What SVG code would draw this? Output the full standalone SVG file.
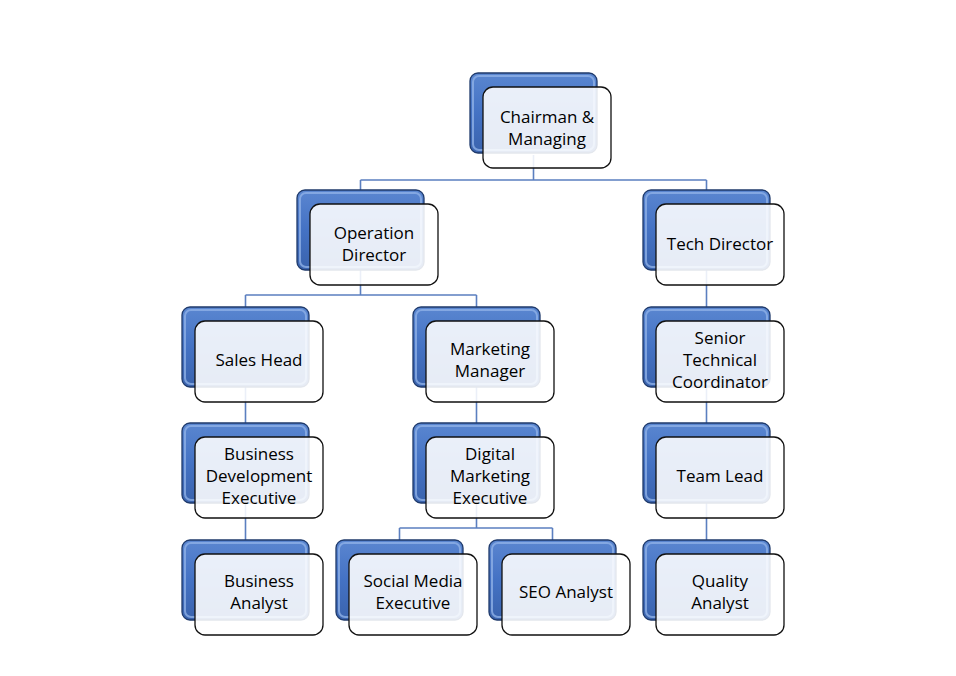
<svg xmlns="http://www.w3.org/2000/svg" width="956" height="676" viewBox="0 0 956 676">
<defs>
<linearGradient id="bg" x1="0" y1="0" x2="0" y2="1">
<stop offset="0" stop-color="#5a86d0"/>
<stop offset="0.5" stop-color="#4472c4"/>
<stop offset="1" stop-color="#3a63ad"/>
</linearGradient>
<g id="pair">
<rect class="back" x="0" y="0" width="127" height="80" rx="8"/>
<rect class="hl" x="3" y="3" width="121" height="74" rx="6"/>
<rect class="front" x="13" y="14" width="128" height="81" rx="10"/>
</g>
</defs>
<style>
.back{fill:url(#bg);stroke:#1f3a6b;stroke-width:1.3}
.hl{fill:none;stroke:#8fb0e6;stroke-width:2;opacity:0.8}
.front{fill:#ffffff;fill-opacity:0.88;stroke:#111;stroke-width:1.3}
.conn{fill:none;stroke:#5b7fc0;stroke-width:1.6}
text{font-family:"Open Sans","Liberation Sans",sans-serif;font-size:17px;fill:#000;text-anchor:middle}
</style>
<rect width="956" height="676" fill="#fff"/>
<g id="connectors">
<path class="conn" d="M533.5 155 V180 M360.5 180 H706.5 M360.5 180 V191 M706.5 180 V191"/>
<path class="conn" d="M360.5 270 V295 M245.5 295 H476.5 M245.5 295 V307 M476.5 295 V307"/>
<path class="conn" d="M706.5 270 V307"/>
<path class="conn" d="M245.5 387 V423 M476.5 387 V423 M706.5 387 V423"/>
<path class="conn" d="M245.5 503 V540 M706.5 503 V540"/>
<path class="conn" d="M476.5 503 V528 M399.5 528 H552.5 M399.5 528 V540 M552.5 528 V540"/>
</g>
<g id="n-chairman"><use href="#pair" x="470" y="73"/><text x="547" y="123">Chairman &amp;</text><text x="547" y="145">Managing</text></g>
<g id="n-operation"><use href="#pair" x="297" y="190"/><text x="374" y="239">Operation</text><text x="374" y="261">Director</text></g>
<g id="n-tech"><use href="#pair" x="643" y="190"/><text x="720" y="250">Tech Director</text></g>
<g id="n-sales"><use href="#pair" x="182" y="307"/><text x="259" y="366">Sales Head</text></g>
<g id="n-marketing"><use href="#pair" x="413" y="307"/><text x="490" y="355">Marketing</text><text x="490" y="377">Manager</text></g>
<g id="n-senior"><use href="#pair" x="643" y="307"/><text x="720" y="344">Senior</text><text x="720" y="366">Technical</text><text x="720" y="388">Coordinator</text></g>
<g id="n-bde"><use href="#pair" x="182" y="423"/><text x="259" y="460">Business</text><text x="259" y="482">Development</text><text x="259" y="504">Executive</text></g>
<g id="n-dme"><use href="#pair" x="413" y="423"/><text x="490" y="460">Digital</text><text x="490" y="482">Marketing</text><text x="490" y="504">Executive</text></g>
<g id="n-teamlead"><use href="#pair" x="643" y="423"/><text x="720" y="482">Team Lead</text></g>
<g id="n-ba"><use href="#pair" x="182" y="540"/><text x="259" y="587">Business</text><text x="259" y="609">Analyst</text></g>
<g id="n-sme"><use href="#pair" x="336" y="540"/><text x="413" y="587">Social Media</text><text x="413" y="609">Executive</text></g>
<g id="n-seo"><use href="#pair" x="489" y="540"/><text x="566" y="598">SEO Analyst</text></g>
<g id="n-qa"><use href="#pair" x="643" y="540"/><text x="720" y="587">Quality</text><text x="720" y="609">Analyst</text></g>
</svg>
